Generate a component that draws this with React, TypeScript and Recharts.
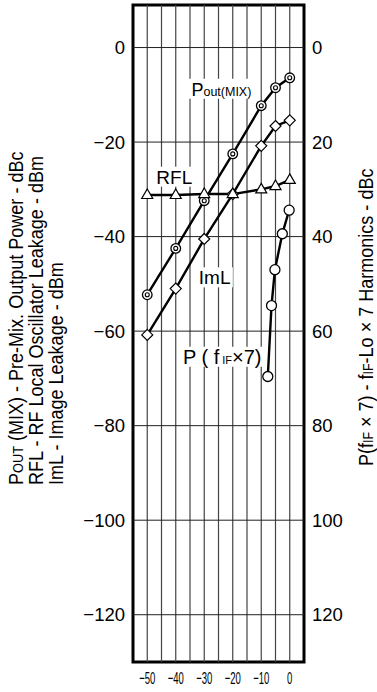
import React from 'react';
import { LineChart, Line, XAxis, YAxis, ReferenceLine, ReferenceArea, ReferenceDot } from 'recharts';

// input level (x) and the measured curves
const inputLevels = [-50, -40, -30, -20, -10, -5, 0];
const poutMix = [-52.3, -42.5, -32.4, -22.5, -12.3, -8.5, -6.4];
const rflLeak = [-31.2, -31.2, -31.0, -31.0, -30.0, -29.3, -28.0];
const imlLeak = [-60.8, -51.0, -40.5, -31.0, -20.8, -16.6, -15.4];

// P(fIF x 7) is read on the right axis (positive down)
const harmInput = [-7.7, -6.4, -5.2, -2.6, -0.2];
const harm7 = [69.6, 54.6, 47.0, 39.4, 34.4];

const xTicks = [-50, -40, -30, -20, -10, 0];
const xGrid = [-50, -45, -40, -35, -30, -25, -20, -15, -10, -5, 0];
const leftTicks = [0, -20, -40, -60, -80, -100, -120];
const rightTicks = [0, 20, 40, 60, 80, 100, 120];

const mainData = inputLevels.map((x, i) => ({ x, pout: poutMix[i], rfl: rflLeak[i], iml: imlLeak[i] }));
const harmData = harmInput.map((x, i) => ({ x, harm: harm7[i] }));

const FONT = "'Liberation Sans', Arial, sans-serif";
const minus = (v: number) => String(v).replace('-', '\u2212');

// tick text, optionally squeezed (the x labels use a narrow face)
const squeezedTick = (size: number, sx: number, dy: string) => (p: any) => (
  <text transform={`translate(${p.x},${p.y}) scale(${sx},1)`} textAnchor={p.textAnchor}
    dy={dy} fontFamily={FONT} fontSize={size} fill="#000">
    {minus(p.payload.value)}
  </text>
);

const DoubleCircle = (p: any) => {
  if (p.cx == null || p.cy == null) return null;
  return (
    <g key={`dc-${p.index}`}>
      <circle cx={p.cx} cy={p.cy} r={4.8} fill="#fff" stroke="#000" strokeWidth={1.3} />
      <circle cx={p.cx} cy={p.cy} r={2} fill="none" stroke="#000" strokeWidth={1.1} />
    </g>
  );
};

const Diamond = (p: any) => {
  if (p.cx == null || p.cy == null) return null;
  const s = 5.5;
  return (
    <polygon key={`dm-${p.index}`}
      points={`${p.cx},${p.cy - s} ${p.cx + s},${p.cy} ${p.cx},${p.cy + s} ${p.cx - s},${p.cy}`}
      fill="#fff" stroke="#000" strokeWidth={1.2} />
  );
};

const Triangle = (p: any) => {
  if (p.cx == null || p.cy == null) return null;
  return (
    <polygon key={`tr-${p.index}`}
      points={`${p.cx},${p.cy - 6} ${p.cx + 5.5},${p.cy + 3.5} ${p.cx - 5.5},${p.cy + 3.5}`}
      fill="#fff" stroke="#000" strokeWidth={1.2} />
  );
};

const OpenCircle = (p: any) => {
  if (p.cx == null || p.cy == null) return null;
  return <circle key={`oc-${p.index}`} cx={p.cx} cy={p.cy} r={5} fill="#fff" stroke="#000" strokeWidth={1.3} />;
};

// curve name tags, drawn at a data anchor with a white patch behind
const tag = (w: number, body: React.ReactNode) => (p: any) => (
  <g>
    <rect x={p.cx - 3} y={p.cy - 17} width={w} height={20} fill="#fff" />
    <text x={p.cx} y={p.cy} fontFamily={FONT} fill="#000">{body}</text>
  </g>
);

const rot = (x: number, y: number) => `translate(${x},${y}) rotate(-90) scale(0.88,1)`;

const LeftTitle = () => (
  <g fontFamily={FONT} fontSize={20.5} fill="#000">
    <text transform={rot(23, 485)}>
      P<tspan fontSize={14.5}>OUT</tspan> (MIX) - Pre-Mix. Output Power - dBc
    </text>
    <text transform={rot(43, 485)}>RFL - RF Local Oscillator Leakage - dBm</text>
    <text transform={rot(63, 485)}>ImL - Image Leakage - dBm</text>
  </g>
);

const RightTitle = () => (
  <text transform={rot(373, 466)} fontFamily={FONT} fontSize={20.5} fill="#000">
    P(f<tspan fontSize={14}>IF</tspan> × 7) - f<tspan fontSize={14}>IF</tspan>-Lo × 7 Harmonics - dBc
  </text>
);

export default function App() {
  return (
    <div style={{ position: 'absolute', left: 0, top: 0, width: 377, height: 692, background: '#fff' }}>
      <LineChart width={377} height={692} data={mainData} margin={{ top: 5, right: 0, bottom: 0, left: 0 }}>
        <XAxis dataKey="x" type="number" domain={[-55, 5]} ticks={xTicks} allowDataOverflow
          axisLine={false} tickLine={false} height={30}
          tick={squeezedTick(17, 0.56, '0.85em')} />
        <YAxis yAxisId="left" type="number" domain={[-130, 9]} ticks={leftTicks} allowDataOverflow
          axisLine={false} tickLine={false} width={133}
          tick={squeezedTick(18.5, 1, '0.36em')}
          label={{ content: LeftTitle }} />
        <YAxis yAxisId="right" orientation="right" type="number" domain={[-9, 130]} reversed ticks={rightTicks}
          allowDataOverflow axisLine={false} tickLine={false} width={73}
          tick={squeezedTick(18.5, 1, '0.36em')}
          label={{ content: RightTitle }} />

        {xGrid.map((g) => (
          <ReferenceLine key={`vx${g}`} yAxisId="left" x={g} stroke="#444" strokeWidth={1.2} />
        ))}
        {leftTicks.map((g) => (
          <ReferenceLine key={`hy${g}`} yAxisId="left" y={g} stroke="#222" strokeWidth={1} />
        ))}
        <ReferenceArea yAxisId="left" x1={-55} x2={5} y1={-130} y2={9} fill="none" stroke="#000" strokeWidth={3} ifOverflow="visible" />

        <ReferenceDot yAxisId="left" x={-34.5} y={-10.2} r={1} fill="none" stroke="none"
          shape={tag(64, <><tspan fontSize={18}>P</tspan><tspan fontSize={12.5}>out(MIX)</tspan></>)} />
        <ReferenceDot yAxisId="left" x={-46.8} y={-28.8} r={1} fill="none" stroke="none"
          shape={tag(42, <tspan fontSize={19}>RFL</tspan>)} />
        <ReferenceDot yAxisId="left" x={-31.9} y={-50.1} r={1} fill="none" stroke="none"
          shape={tag(37, <tspan fontSize={19}>ImL</tspan>)} />
        <ReferenceDot yAxisId="left" x={-37.5} y={-66.9} r={1} fill="none" stroke="none"
          shape={tag(84, <><tspan fontSize={20}>P ( f</tspan><tspan fontSize={11}> IF</tspan><tspan fontSize={20}>×7)</tspan></>)} />

        <Line yAxisId="left" dataKey="pout" stroke="#000" strokeWidth={2.4} dot={DoubleCircle} isAnimationActive={false} />
        <Line yAxisId="left" dataKey="iml" stroke="#000" strokeWidth={2.4} dot={Diamond} isAnimationActive={false} />
        <Line yAxisId="left" dataKey="rfl" stroke="#000" strokeWidth={2.4} dot={Triangle} isAnimationActive={false} />
        <Line yAxisId="right" data={harmData} dataKey="harm" stroke="#000" strokeWidth={2.4} dot={OpenCircle} isAnimationActive={false} />
      </LineChart>
    </div>
  );
}
